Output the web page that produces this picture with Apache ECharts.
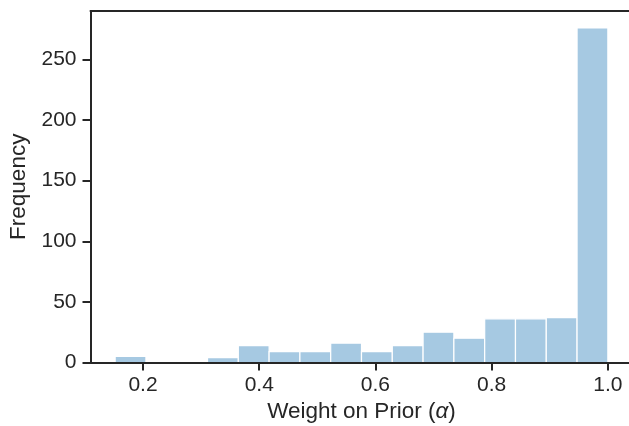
<!DOCTYPE html>
<html>
<head>
<meta charset="utf-8">
<script src="https://cdn.jsdelivr.net/npm/echarts@6/dist/echarts.min.js"></script>
<style>
  html, body { margin: 0; padding: 0; background: #ffffff; }
  #chart { width: 629px; height: 426px; }
</style>
</head>
<body>
<div id="chart"></div>
<script>
// Histogram of the weight placed on the prior (alpha), 16 equal-width bins
const binLow = 0.152;
const binHigh = 1.0;
const counts = [5, 0, 1, 4, 14, 9, 9, 16, 9, 14, 25, 20, 36, 36, 37, 276];
const xTicks = [0.2, 0.4, 0.6, 0.8, 1.0];
const yTicks = [0, 50, 100, 150, 200, 250];
const xLimits = [0.1096, 1.0424];
const yLimits = [0, 290];

const ink = '#262626';
const font = '"Liberation Sans", Arial, Helvetica, sans-serif';
const tickSize = 21;
const labelSize = 22.5;

// bin edges as numpy.histogram would produce them
const binWidth = (binHigh - binLow) / counts.length;
const bins = counts.map((c, i) => [binLow + i * binWidth, binLow + (i + 1) * binWidth, c]);

const chart = echarts.init(document.getElementById('chart'), null, { renderer: 'canvas' });

chart.setOption({
  animation: false,
  backgroundColor: '#ffffff',
  grid: {
    left: 90.5,
    top: 11,
    width: 542,
    height: 351.5,
    outerBoundsMode: 'none',
    containLabel: false
  },
  xAxis: [{
    type: 'value',
    position: 'bottom',
    min: xLimits[0],
    max: xLimits[1],
    z: 10,
    splitLine: { show: false },
    axisLine: { show: true, lineStyle: { color: ink, width: 2 } },
    axisTick: { show: true, length: 8, lineStyle: { color: ink, width: 2 }, customValues: xTicks },
    axisLabel: {
      customValues: xTicks,
      formatter: v => v.toFixed(1),
      color: ink, fontSize: tickSize, fontFamily: font, margin: 12
    },
    name: 'Weight on Prior ({a|α})',
    nameLocation: 'middle',
    nameGap: 35,
    nameTextStyle: {
      color: ink, fontSize: labelSize, fontFamily: font,
      rich: { a: { fontStyle: 'italic', fontSize: labelSize, fontFamily: font, color: ink } }
    }
  }, {
    // top spine
    type: 'value',
    position: 'top',
    min: xLimits[0],
    max: xLimits[1],
    z: 10,
    splitLine: { show: false },
    axisLine: { show: true, lineStyle: { color: ink, width: 2 } },
    axisTick: { show: false },
    axisLabel: { show: false }
  }],
  yAxis: {
    type: 'value',
    min: yLimits[0],
    max: yLimits[1],
    z: 10,
    splitLine: { show: false },
    axisLine: { show: true, lineStyle: { color: ink, width: 2 } },
    axisTick: { show: true, length: 8, lineStyle: { color: ink, width: 2 }, customValues: yTicks },
    axisLabel: {
      customValues: yTicks,
      color: ink, fontSize: tickSize, fontFamily: font, margin: 14
    },
    name: 'Frequency',
    nameLocation: 'middle',
    nameGap: 59,
    nameTextStyle: { color: ink, fontSize: labelSize, fontFamily: font }
  },
  series: [{
    type: 'custom',
    z: 2,
    xAxisIndex: 0,
    data: bins,
    encode: { x: [0, 1], y: 2 },
    renderItem: function (params, api) {
      const top = api.coord([api.value(0), api.value(2)]);
      const base = api.coord([api.value(1), 0]);
      return {
        type: 'rect',
        shape: { x: top[0], y: top[1], width: base[0] - top[0], height: base[1] - top[1] },
        style: { fill: '#a6c9e2', stroke: '#ffffff', lineWidth: 1.2 }
      };
    }
  }]
});
</script>
</body>
</html>
